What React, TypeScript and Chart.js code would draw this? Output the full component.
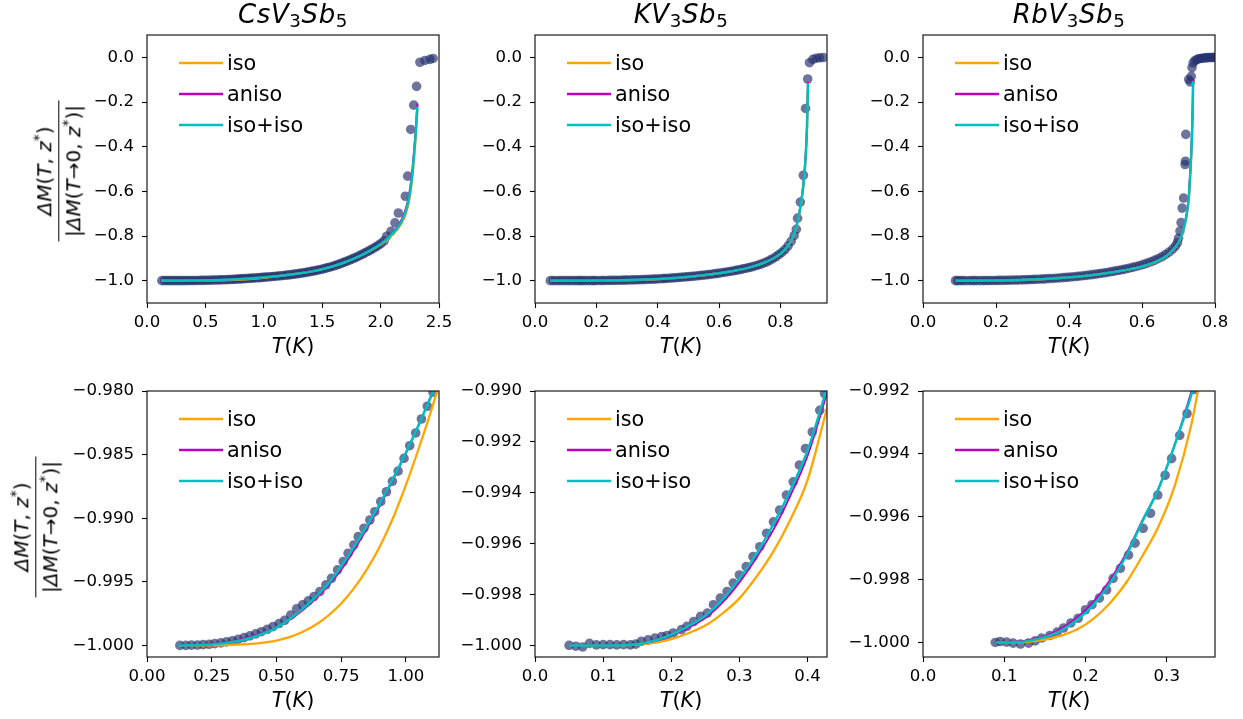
import React, { useEffect, useRef } from 'react';
import { Chart, registerables } from 'chart.js';

Chart.register(...registerables);

const FONT = 'DejaVu Sans';

// ---------------- tick values ----------------
const csTopXTicks = [0, 0.5, 1.0, 1.5, 2.0, 2.5];
const kTopXTicks = [0, 0.2, 0.4, 0.6, 0.8];
const rbTopXTicks = [0, 0.2, 0.4, 0.6, 0.8];
const topYTicks = [0, -0.2, -0.4, -0.6, -0.8, -1.0];
const csBotXTicks = [0, 0.25, 0.5, 0.75, 1.0];
const kBotXTicks = [0, 0.1, 0.2, 0.3, 0.4];
const rbBotXTicks = [0, 0.1, 0.2, 0.3];
const csBotYTicks = [-0.98, -0.985, -0.99, -0.995, -1.0];
const kBotYTicks = [-0.99, -0.992, -0.994, -0.996, -0.998, -1.0];
const rbBotYTicks = [-0.992, -0.994, -0.996, -0.998, -1.0];

const legendLabels = ['iso', 'aniso', 'iso+iso'];
const compounds = ['Cs', 'K', 'Rb'];

// ---------------- CsV3Sb5 ----------------
const csT = [
  0.127, 0.150, 0.172, 0.195, 0.217, 0.240, 0.262, 0.285, 0.307, 0.330,
  0.352, 0.375, 0.397, 0.420, 0.442, 0.465, 0.487, 0.510, 0.532, 0.555,
  0.578, 0.601, 0.623, 0.645, 0.668, 0.691, 0.713, 0.736, 0.758, 0.777,
  0.799, 0.816, 0.838, 0.861, 0.880, 0.903, 0.925, 0.948, 0.970, 0.993,
  1.015, 1.038, 1.060, 1.083, 1.105, 1.128, 1.150, 1.173, 1.195, 1.218,
  1.240, 1.263, 1.285, 1.308, 1.330, 1.353, 1.375, 1.398, 1.420, 1.443,
  1.465, 1.488, 1.510, 1.533, 1.555, 1.578, 1.600, 1.623, 1.645, 1.668,
  1.690, 1.713, 1.735, 1.758, 1.780, 1.803, 1.825, 1.848, 1.870, 1.893,
  1.915, 1.938, 1.960, 1.983, 2.005, 2.030, 2.052, 2.089, 2.123, 2.152,
  2.212, 2.232, 2.258, 2.284, 2.308, 2.337, 2.380, 2.423, 2.450,
];
const csM = [
  -1.00000, -1.00000, -0.99998, -0.99997, -0.99994, -0.99991, -0.99986, -0.99980, -0.99972, -0.99963,
  -0.99952, -0.99939, -0.99925, -0.99909, -0.99892, -0.99873, -0.99852, -0.99828, -0.99802, -0.99762,
  -0.99712, -0.99681, -0.99650, -0.99616, -0.99576, -0.99524, -0.99472, -0.99406, -0.99341, -0.99275,
  -0.99210, -0.99145, -0.99079, -0.99014, -0.98949, -0.98870, -0.98792, -0.98710, -0.98630, -0.98530,
  -0.98430, -0.98330, -0.98220, -0.98120, -0.98010, -0.97900, -0.97780, -0.97660, -0.97540, -0.97400,
  -0.97250, -0.97090, -0.96920, -0.96740, -0.96560, -0.96360, -0.96150, -0.95940, -0.95720, -0.95490,
  -0.95240, -0.94970, -0.94700, -0.94400, -0.94080, -0.93740, -0.93380, -0.93000, -0.92590, -0.92160,
  -0.91720, -0.91250, -0.90760, -0.90260, -0.89740, -0.89200, -0.88640, -0.88060, -0.87460, -0.86840,
  -0.86200, -0.85530, -0.84840, -0.84100, -0.83300, -0.82200, -0.80100, -0.77900, -0.74100, -0.69700,
  -0.62200, -0.53200, -0.32300, -0.21400, -0.13000, -0.02200, -0.01400, -0.00900, -0.00500,
];
const csFitT = [
  0.12, 0.2, 0.25, 0.3, 0.35, 0.4, 0.45, 0.5, 0.55, 0.6, 0.65, 0.7, 0.75, 0.8, 0.85, 0.9, 0.95,
  1.0, 1.05, 1.1, 1.15, 1.2, 1.3, 1.4, 1.5, 1.6, 1.7, 1.8, 1.9, 2.0, 2.05, 2.1, 2.15, 2.2,
  2.23, 2.25, 2.27, 2.285, 2.3, 2.31, 2.315,
];
const csIso = [
  -1.0, -1.0, -0.999995, -0.99998, -0.99994, -0.99988, -0.99978, -0.99962, -0.99935, -0.99895,
  -0.9984, -0.99765, -0.9967, -0.9955, -0.994, -0.9922, -0.99, -0.9874, -0.9845, -0.9814, -0.978,
  -0.9745, -0.9675, -0.9592, -0.9485, -0.9348, -0.9172, -0.8955, -0.8695, -0.8385, -0.819, -0.795,
  -0.767, -0.722, -0.675, -0.625, -0.545, -0.46, -0.36, -0.275, -0.232,
];
const csAniso = [
  -1.0, -0.99996, -0.99989, -0.99978, -0.9996, -0.99934, -0.999, -0.99857, -0.998, -0.99725,
  -0.99635, -0.9953, -0.99405, -0.9925, -0.9908, -0.989, -0.987, -0.9849, -0.98265, -0.98025, -0.9777,
  -0.9748, -0.9677, -0.9592, -0.9482, -0.9342, -0.9163, -0.8943, -0.8675, -0.834, -0.812, -0.786,
  -0.754, -0.702, -0.65, -0.595, -0.512, -0.425, -0.325, -0.245, -0.208,
];
const csIsoIso = [
  -1.0, -0.99997, -0.99992, -0.99983, -0.99966, -0.99941, -0.99905, -0.9986, -0.99795, -0.99715,
  -0.99622, -0.99515, -0.9938, -0.99225, -0.9906, -0.98885, -0.9869, -0.98485, -0.98265, -0.9803, -0.9778,
  -0.975, -0.968, -0.9595, -0.9485, -0.9345, -0.9165, -0.8945, -0.868, -0.836, -0.815, -0.79,
  -0.76, -0.712, -0.662, -0.61, -0.53, -0.445, -0.345, -0.262, -0.222,
];

// ---------------- KV3Sb5 ----------------
const kT = [
  0.050, 0.060, 0.070, 0.080, 0.090, 0.100, 0.110, 0.120, 0.130, 0.140,
  0.148, 0.156, 0.166, 0.176, 0.186, 0.194, 0.203, 0.215, 0.223, 0.233,
  0.243, 0.253, 0.262, 0.272, 0.282, 0.291, 0.300, 0.310, 0.320, 0.330,
  0.340, 0.350, 0.359, 0.369, 0.379, 0.388, 0.397, 0.407, 0.418, 0.425,
  0.435, 0.445, 0.455, 0.465, 0.475, 0.485, 0.495, 0.505, 0.515, 0.525,
  0.535, 0.545, 0.555, 0.565, 0.575, 0.585, 0.595, 0.605, 0.615, 0.625,
  0.635, 0.645, 0.655, 0.665, 0.675, 0.685, 0.695, 0.705, 0.715, 0.725,
  0.735, 0.745, 0.755, 0.765, 0.775, 0.785, 0.795, 0.805, 0.815, 0.825,
  0.835, 0.845, 0.852, 0.856, 0.865, 0.875, 0.882, 0.889, 0.895, 0.906,
  0.917, 0.928, 0.940,
];
const kM = [
  -1.00000, -1.00003, -1.00006, -0.99992, -0.99998, -0.99997, -0.99997, -0.99998, -0.99997, -0.99998,
  -0.99995, -0.99984, -0.99978, -0.99971, -0.99965, -0.99961, -0.99951, -0.99938, -0.99925, -0.99906,
  -0.99886, -0.99873, -0.99840, -0.99814, -0.99788, -0.99755, -0.99723, -0.99690, -0.99651, -0.99612,
  -0.99559, -0.99514, -0.99468, -0.99409, -0.99357, -0.99291, -0.99226, -0.99161, -0.99076, -0.99010,
  -0.98920, -0.98810, -0.98700, -0.98600, -0.98500, -0.98390, -0.98270, -0.98150, -0.98020, -0.97890,
  -0.97750, -0.97600, -0.97440, -0.97280, -0.97110, -0.96930, -0.96740, -0.96540, -0.96330, -0.96110,
  -0.95880, -0.95640, -0.95390, -0.95120, -0.94840, -0.94540, -0.94220, -0.93880, -0.93520, -0.93120,
  -0.92680, -0.92180, -0.91600, -0.90930, -0.90160, -0.89300, -0.88350, -0.87350, -0.86050, -0.84400,
  -0.82400, -0.79800, -0.77000, -0.72000, -0.64800, -0.52800, -0.22900, -0.09700, -0.02400, -0.00900,
  -0.00400, -0.00200, -0.00100,
];
const kFitT = [
  0.05, 0.1, 0.125, 0.15, 0.175, 0.2, 0.225, 0.25, 0.275, 0.3, 0.325, 0.35, 0.375, 0.4, 0.425, 0.45,
  0.5, 0.55, 0.6, 0.65, 0.7, 0.75, 0.78, 0.8, 0.82, 0.84, 0.855, 0.865, 0.875, 0.882, 0.887, 0.89,
];
const kIso = [
  -1.0, -1.0, -1.0, -0.99997, -0.9999, -0.99975, -0.99952, -0.99922, -0.99875, -0.99815, -0.9973,
  -0.9963, -0.99505, -0.9935, -0.99105, -0.9884,
  -0.9828, -0.9758, -0.9668, -0.9558, -0.941, -0.918, -0.8985, -0.8805, -0.853, -0.809, -0.746,
  -0.677, -0.578, -0.46, -0.31, -0.12,
];
const kAniso = [
  -1.0, -1.0, -0.99999, -0.99995, -0.99983, -0.99961, -0.9993, -0.99892, -0.99832, -0.99752, -0.99655,
  -0.99545, -0.9941, -0.99255, -0.9904, -0.988,
  -0.9824, -0.9754, -0.9665, -0.9555, -0.9405, -0.9172, -0.897, -0.878, -0.849, -0.803, -0.738,
  -0.667, -0.565, -0.445, -0.295, -0.11,
];
const kIsoIso = [
  -1.0, -1.0, -0.99999, -0.99995, -0.99982, -0.99958, -0.99924, -0.99883, -0.9982, -0.99738, -0.9964,
  -0.99523, -0.9939, -0.99235, -0.9902, -0.9878,
  -0.9822, -0.9752, -0.9663, -0.9553, -0.9405, -0.9175, -0.8975, -0.879, -0.851, -0.806, -0.742,
  -0.672, -0.572, -0.452, -0.305, -0.115,
];

// ---------------- RbV3Sb5 ----------------
const rbT = [
  0.089, 0.095, 0.103, 0.111, 0.120, 0.130, 0.138, 0.146, 0.156, 0.165,
  0.173, 0.182, 0.191, 0.200, 0.208, 0.217, 0.226, 0.234, 0.243, 0.253,
  0.261, 0.271, 0.280, 0.289, 0.298, 0.306, 0.316, 0.325, 0.334, 0.344,
  0.354, 0.364, 0.374, 0.384, 0.394, 0.404, 0.414, 0.424, 0.434, 0.444,
  0.454, 0.464, 0.474, 0.484, 0.494, 0.504, 0.514, 0.524, 0.534, 0.544,
  0.554, 0.564, 0.574, 0.584, 0.594, 0.604, 0.614, 0.624, 0.634, 0.644,
  0.654, 0.664, 0.674, 0.684, 0.692, 0.697, 0.700, 0.704, 0.707, 0.710,
  0.714, 0.718, 0.719, 0.720, 0.728, 0.732, 0.735, 0.737, 0.740, 0.745,
  0.750, 0.755, 0.760, 0.765, 0.770, 0.775, 0.780, 0.785, 0.790, 0.795,
  0.800,
];
const rbM = [
  -1.00000, -0.99997, -0.99999, -1.00002, -1.00005, -1.00002, -0.99995, -0.99986, -0.99978, -0.99967,
  -0.99954, -0.99938, -0.99923, -0.99896, -0.99880, -0.99859, -0.99833, -0.99796, -0.99764, -0.99722,
  -0.99684, -0.99637, -0.99589, -0.99531, -0.99468, -0.99415, -0.99341, -0.99272, -0.99195, -0.99100,
  -0.99000, -0.98900, -0.98780, -0.98660, -0.98520, -0.98380, -0.98220, -0.98060, -0.97880, -0.97690,
  -0.97490, -0.97280, -0.97060, -0.96820, -0.96570, -0.96310, -0.96030, -0.95740, -0.95440, -0.95120,
  -0.94780, -0.94420, -0.94040, -0.93630, -0.93180, -0.92700, -0.92160, -0.91560, -0.90900, -0.90160,
  -0.89320, -0.88350, -0.87220, -0.85880, -0.84400, -0.83000, -0.81000, -0.77800, -0.74000, -0.67500,
  -0.63000, -0.48000, -0.46500, -0.34500, -0.09900, -0.11000, -0.08500, -0.04600, -0.02500, -0.01500,
  -0.01000, -0.00700, -0.00500, -0.00400, -0.00300, -0.00200, -0.00150, -0.00100, -0.00080, -0.00050,
  -0.00030,
];
const rbFitT = [
  0.09, 0.11, 0.13, 0.15, 0.17, 0.19, 0.21, 0.23, 0.25, 0.27, 0.29, 0.31, 0.33, 0.35, 0.4, 0.45,
  0.5, 0.55, 0.6, 0.64, 0.67, 0.69, 0.7, 0.71, 0.715, 0.72, 0.725, 0.729, 0.732, 0.735, 0.737, 0.739, 0.74,
];
const rbIso = [
  -1.0, -1.0, -0.99998, -0.99991, -0.99978, -0.99958, -0.99924, -0.99875, -0.9981, -0.99725, -0.9963,
  -0.995, -0.9931, -0.9904, -0.9853, -0.9778, -0.9676, -0.954, -0.937, -0.9148, -0.886, -0.854, -0.83,
  -0.793, -0.766, -0.73, -0.68, -0.617, -0.533, -0.44, -0.355, -0.23, -0.112,
];
const rbAniso = [
  -1.0, -0.99999, -0.99993, -0.9998, -0.99956, -0.9992, -0.9987, -0.99802, -0.99718, -0.99612, -0.9951,
  -0.9937, -0.99205, -0.9903, -0.9851, -0.9774, -0.9671, -0.9533, -0.9362, -0.9135, -0.884, -0.85, -0.825,
  -0.786, -0.757, -0.72, -0.668, -0.6, -0.515, -0.42, -0.335, -0.21, -0.1,
];
const rbIsoIso = [
  -1.0, -1.0, -0.99995, -0.99983, -0.99962, -0.99928, -0.9988, -0.99812, -0.99725, -0.99615, -0.9951,
  -0.9937, -0.99215, -0.9904, -0.9852, -0.9775, -0.9672, -0.9535, -0.9365, -0.914, -0.885, -0.852, -0.828,
  -0.79, -0.762, -0.725, -0.674, -0.61, -0.525, -0.43, -0.345, -0.22, -0.106,
];

// ---------------- styles / layout ----------------
const COLORS = { iso: '#ffa500', aniso: '#bf00bf', isoiso: '#00bfbf', data: 'rgba(40,52,110,0.68)' };
const COL_LEFT = [147, 535, 923];
const ROW_TOP = [35, 391];
const PLOT_W = 292;
const PLOT_H = [268, 266];
const M_LEFT = 100;
const M_RIGHT = 30;
const M_TOP = 20;
const M_BOTTOM = 40;

const fmt = (v: number, d: number) => {
  const s = Number(v).toFixed(d);
  return s.startsWith('-') ? '\u2212' + s.slice(1) : s;
};

type PanelDef = {
  col: number; row: number;
  T: number[]; M: number[]; fitT: number[]; iso: number[]; aniso: number[]; isoiso: number[];
  xMin: number; xMax: number; yMin: number; yMax: number;
  xTicks: number[]; yTicks: number[]; xDec: number; yDec: number;
};

const panels: PanelDef[] = [
  { col: 0, row: 0, T: csT, M: csM, fitT: csFitT, iso: csIso, aniso: csAniso, isoiso: csIsoIso,
    xMin: 0, xMax: 2.5, yMin: -1.1, yMax: 0.1, xTicks: csTopXTicks, yTicks: topYTicks, xDec: 1, yDec: 1 },
  { col: 1, row: 0, T: kT, M: kM, fitT: kFitT, iso: kIso, aniso: kAniso, isoiso: kIsoIso,
    xMin: 0, xMax: 0.952, yMin: -1.1, yMax: 0.1, xTicks: kTopXTicks, yTicks: topYTicks, xDec: 1, yDec: 1 },
  { col: 2, row: 0, T: rbT, M: rbM, fitT: rbFitT, iso: rbIso, aniso: rbAniso, isoiso: rbIsoIso,
    xMin: 0, xMax: 0.8, yMin: -1.1, yMax: 0.1, xTicks: rbTopXTicks, yTicks: topYTicks, xDec: 1, yDec: 1 },
  { col: 0, row: 1, T: csT, M: csM, fitT: csFitT, iso: csIso, aniso: csAniso, isoiso: csIsoIso,
    xMin: 0, xMax: 1.128, yMin: -1.00091, yMax: -0.98, xTicks: csBotXTicks, yTicks: csBotYTicks, xDec: 2, yDec: 3 },
  { col: 1, row: 1, T: kT, M: kM, fitT: kFitT, iso: kIso, aniso: kAniso, isoiso: kIsoIso,
    xMin: 0, xMax: 0.4286, yMin: -1.000455, yMax: -0.99, xTicks: kBotXTicks, yTicks: kBotYTicks, xDec: 1, yDec: 3 },
  { col: 2, row: 1, T: rbT, M: rbM, fitT: rbFitT, iso: rbIso, aniso: rbAniso, isoiso: rbIsoIso,
    xMin: 0, xMax: 0.3594, yMin: -1.000463, yMax: -0.992, xTicks: rbBotXTicks, yTicks: rbBotYTicks, xDec: 1, yDec: 3 },
];

const toXY = (xs: number[], ys: number[]) => xs.map((x, i) => ({ x, y: ys[i] }));

const framePlugin = {
  id: 'frame',
  afterDraw(chart: any) {
    const { ctx, chartArea } = chart;
    const { left, top, right, bottom } = chartArea;
    ctx.save();
    ctx.strokeStyle = '#1a1a1a';
    ctx.lineWidth = 1.2;
    ctx.strokeRect(left, top, right - left, bottom - top);
    ctx.restore();
  },
};

const legendPlugin = {
  id: 'insideLegend',
  afterDraw(chart: any) {
    const { ctx, chartArea } = chart;
    const cols = [COLORS.iso, COLORS.aniso, COLORS.isoiso];
    const offsets = [28, 59, 90];
    ctx.save();
    ctx.font = `20.8px "${FONT}"`;
    ctx.textBaseline = 'middle';
    ctx.textAlign = 'left';
    legendLabels.forEach((lab, i) => {
      const y = chartArea.top + offsets[i];
      ctx.strokeStyle = cols[i];
      ctx.lineWidth = 2.4;
      ctx.beginPath();
      ctx.moveTo(chartArea.left + 32, y);
      ctx.lineTo(chartArea.left + 76, y);
      ctx.stroke();
      ctx.fillStyle = '#000';
      ctx.fillText(lab, chartArea.left + 80, y + 1.5);
    });
    ctx.restore();
  },
};

const zeroPad = (s: any) => {
  s.paddingTop = 0;
  s.paddingBottom = 0;
  s.paddingLeft = 0;
  s.paddingRight = 0;
};

function Panel({ p }: { p: PanelDef }) {
  const ref = useRef<HTMLCanvasElement | null>(null);
  const w = M_LEFT + PLOT_W + M_RIGHT;
  const h = M_TOP + PLOT_H[p.row] + M_BOTTOM;
  const left = COL_LEFT[p.col] - M_LEFT;
  const top = ROW_TOP[p.row] - M_TOP;

  useEffect(() => {
    const canvas = ref.current;
    if (!canvas) return;
    const lineDs = (label: string, ys: number[], color: string, width: number, order: number) => ({
      label,
      data: toXY(p.fitT, ys),
      showLine: true,
      borderColor: color,
      borderWidth: width,
      pointRadius: 0,
      fill: false,
      cubicInterpolationMode: 'monotone',
      clip: 0,
      order,
    });
    const chart = new Chart(canvas, {
      type: 'scatter',
      data: {
        datasets: [
          lineDs('iso+iso', p.isoiso, COLORS.isoiso, 2.5, 1),
          lineDs('aniso', p.aniso, COLORS.aniso, 1.9, 2),
          lineDs('iso', p.iso, COLORS.iso, 2.3, 3),
          {
            label: 'data',
            data: toXY(p.T, p.M),
            pointRadius: 4.8,
            pointBackgroundColor: COLORS.data,
            pointBorderWidth: 0,
            pointBorderColor: 'rgba(0,0,0,0)',
            showLine: false,
            clip: 0,
            order: 4,
          } as any,
        ] as any,
      },
      options: {
        responsive: false,
        animation: false,
        devicePixelRatio: 1,
        events: [],
        layout: { padding: { top: M_TOP, right: M_RIGHT, left: 0, bottom: 0 } },
        plugins: { legend: { display: false }, tooltip: { enabled: false }, title: { display: false } },
        scales: {
          x: {
            type: 'linear',
            position: 'bottom',
            min: p.xMin,
            max: p.xMax,
            bounds: 'data',
            afterFit: (s: any) => { s.height = M_BOTTOM; zeroPad(s); },
            afterBuildTicks: (s: any) => { s.ticks = p.xTicks.map((v) => ({ value: v })); },
            ticks: {
              callback: (v: any) => fmt(v, p.xDec),
              color: '#000',
              font: { family: FONT, size: 16.6 },
              padding: 5,
              maxRotation: 0,
              autoSkip: false,
            },
            grid: { drawOnChartArea: false, drawTicks: true, tickLength: 5, tickColor: '#000', tickWidth: 1.1 },
            border: { display: false },
          },
          y: {
            type: 'linear',
            position: 'left',
            min: p.yMin,
            max: p.yMax,
            bounds: 'data',
            afterFit: (s: any) => { s.width = M_LEFT; zeroPad(s); },
            afterBuildTicks: (s: any) => { s.ticks = p.yTicks.map((v) => ({ value: v })); },
            ticks: {
              callback: (v: any) => fmt(v, p.yDec),
              color: '#000',
              font: { family: FONT, size: 16.6 },
              padding: 8,
              autoSkip: false,
            },
            grid: { drawOnChartArea: false, drawTicks: true, tickLength: 5, tickColor: '#000', tickWidth: 1.1 },
            border: { display: false },
          },
        },
      } as any,
      plugins: [legendPlugin, framePlugin],
    });
    // keep the plot area exactly where the panel belongs
    const ca = chart.chartArea;
    const dy = Math.round(ca.top - M_TOP);
    if (dy !== 0) {
      chart.resize(w, h + dy);
    }
    const ca2 = chart.chartArea;
    canvas.style.position = 'absolute';
    canvas.style.top = `${ROW_TOP[p.row] - ca2.top}px`;
    canvas.style.left = `${COL_LEFT[p.col] - ca2.left}px`;
    return () => chart.destroy();
  }, []);

  return (
    <canvas
      ref={ref}
      width={w}
      height={h}
      style={{ position: 'absolute', left, top, width: w, height: h }}
    />
  );
}

const subStyle: React.CSSProperties = { fontSize: '0.7em', fontStyle: 'normal', position: 'relative', top: '0.22em' };

function YLabel({ cx, cy }: { cx: number; cy: number }) {
  return (
    <div
      style={{
        position: 'absolute', left: cx, top: cy,
        transform: 'translate(-50%, -50%) rotate(-90deg)',
        display: 'flex', flexDirection: 'column', alignItems: 'center',
        fontSize: 20, whiteSpace: 'nowrap', color: '#000',
      }}
    >
      <div style={{ lineHeight: '24px', height: 24, marginBottom: 2 }}>
        <i>ΔM</i>(<i>T</i>, <i>z</i><sup style={{ fontSize: '0.7em', lineHeight: 0 }}>*</sup>)
      </div>
      <div style={{ width: 141, height: 1.4, background: '#000' }} />
      <div style={{ lineHeight: '24px', height: 24, marginTop: 2 }}>
        |<i>ΔM</i>(<i>T</i>→0, <i>z</i><sup style={{ fontSize: '0.7em', lineHeight: 0 }}>*</sup>)|
      </div>
    </div>
  );
}

export default function App() {
  return (
    <div
      style={{
        position: 'absolute', left: 0, top: 0, width: 1243, height: 719,
        background: '#fff', overflow: 'hidden', fontFamily: FONT, color: '#000',
      }}
    >
      {panels.map((p, i) => <Panel key={i} p={p} />)}
      {compounds.map((c, i) => (
        <div
          key={'t' + i}
          style={{
            position: 'absolute', left: COL_LEFT[i] + PLOT_W / 2, top: 1,
            transform: 'translateX(-50%)', fontSize: 26, lineHeight: '26px',
            fontStyle: 'italic', whiteSpace: 'nowrap', letterSpacing: '0.6px',
          }}
        >
          {c}V<span style={subStyle}>3</span>Sb<span style={subStyle}>5</span>
        </div>
      ))}
      {[0, 1].map((r) =>
        COL_LEFT.map((cl, i) => (
          <div
            key={'x' + r + i}
            style={{
              position: 'absolute', left: cl + PLOT_W / 2,
              top: ROW_TOP[r] + PLOT_H[r] + 33,
              transform: 'translateX(-50%)', fontSize: 20.8, lineHeight: '21px', whiteSpace: 'nowrap',
            }}
          >
            <i>T</i>(<i>K</i>)
          </div>
        ))
      )}
      <YLabel cx={59} cy={170.5} />
      <YLabel cx={36} cy={527} />
    </div>
  );
}
